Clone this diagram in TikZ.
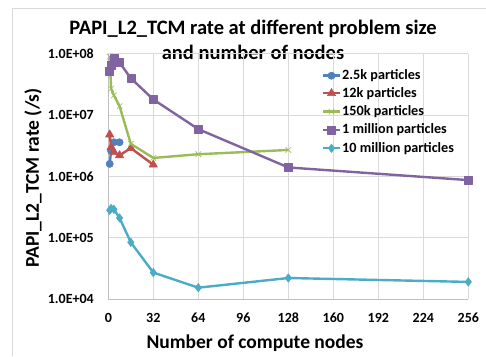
\documentclass[tikz,border=0pt]{standalone}
\usepackage{fontspec}
\setmainfont{Carlito}
\usepackage{xcolor}
\usepackage{tikz}
\usetikzlibrary{plotmarks}

\definecolor{cSmall}{HTML}{4F81BD}
\definecolor{cTwelve}{HTML}{C0504D}
\definecolor{cMid}{HTML}{9BBB59}
\definecolor{cMillion}{HTML}{8064A2}
\definecolor{cTen}{HTML}{4BACC6}

\tikzset{
  grid line/.style={draw=black!15, line width=0.8pt},
  tick label/.style={font=\bfseries\fontsize{14}{16}\selectfont},
  axis title/.style={font=\bfseries\fontsize{19.5}{22}\selectfont},
  series/.style={draw=#1, line width=2.4pt, line join=round,
    mark options={solid, fill=#1, line width=0.6pt}},
}

\begin{document}
\begin{tikzpicture}[x=1pt,y=1pt]
    \useasboundingbox (0,0) rectangle (486,356);
    % Draw chart frame
    \draw[black!15] (12,0) -- (12,348) -- (486,348);

    % Draw title
    \node[font=\bfseries\fontsize{20.5}{25}\selectfont, align=center] (title) at (253,316)
        {PAPI\_L2\_TCM rate at different problem size\\and number of nodes};

    \begin{scope}[shift={(108.3,57)}, x=1.40625pt, y=61.3pt]
        % Draw grid with labels
        \foreach \x in {32,64,...,256} {
            \draw[grid line] (\x,0) -- (\x,4);
        }
        \foreach \y in {1,2,3,4} {
            \draw[grid line] (0,\y) -- (256,\y);
        }
        \draw[draw=black!25, line width=0.8pt] (0,4) -- (0,0) -- (256,0);
        \foreach \x in {0,32,...,256} {
            \node[tick label, yshift=-19pt] (xl\x) at (\x,0) {\x};
        }
        \foreach \y/\e in {0/04,1/05,2/06,3/07,4/08} {
            \node[tick label, anchor=east, xshift=-11pt] (yl\y) at (0,\y) {1.0E+\e};
        }

        % Draw data series
        \draw[series=cSmall, mark=*, mark size=3.6pt] plot coordinates {
            (1,{2+log10(1.6)}) (2,{2+log10(2.6)}) (4,{2+log10(3.6)}) (8,{2+log10(3.6)})};
        \draw[series=cTwelve, mark=triangle*, mark size=4.8pt] plot coordinates {
            (1,{2+log10(4.8)}) (2,{2+log10(3.0)}) (4,{2+log10(2.5)}) (8,{2+log10(2.2)})
            (16,{2+log10(2.9)}) (32,{2+log10(1.55)})};
        \draw[series=cMid, mark=x, mark size=4pt] plot coordinates {
            (1,{3+log10(9.0)}) (2,{3+log10(2.7)}) (4,{3+log10(2.1)}) (8,{3+log10(1.4)})
            (16,{2+log10(3.4)}) (32,{2+log10(2.0)}) (64,{2+log10(2.3)}) (128,{2+log10(2.7)})};
        \draw[series=cMillion, mark=square*, mark size=4pt] plot coordinates {
            (1,{3+log10(5.2)}) (2,{3+log10(6.5)}) (4,{3+log10(8.5)}) (8,{3+log10(7.2)})
            (16,{3+log10(4.0)}) (32,{3+log10(1.8)}) (64,{2+log10(5.9)}) (128,{2+log10(1.4)})
            (256,{1+log10(8.7)})};
        \draw[series=cTen, mark=diamond*, mark size=4.2pt] plot coordinates {
            (1,{1+log10(2.8)}) (2,{1+log10(3.0)}) (4,{1+log10(2.9)}) (8,{1+log10(2.1)})
            (16,{log10(8.4)}) (32,{log10(2.7)}) (64,{log10(1.53)}) (128,{log10(2.2)})
            (256,{log10(1.9)})};
    \end{scope}

    % Draw axis titles
    \node[axis title, rotate=90] (ytitle) at (33,178) {PAPI\_L2\_TCM rate (/s)};
    \node[axis title] (xtitle) at (255,13) {Number of compute nodes};

    % Draw legend
    \foreach \c/\m/\s/\y/\t in {cSmall/*/3.6pt/280.3/2.5k particles,
                                cTwelve/triangle*/4.8pt/262.7/12k particles,
                                cMid/x/4pt/244.3/150k particles,
                                cMillion/square*/4pt/226/1 million particles,
                                cTen/diamond*/4.2pt/207.7/10 million particles} {
        \draw[series=\c] (323,\y) -- (340,\y) plot[mark=\m, mark size=\s] coordinates {(331.5,\y)};
        \node[font=\bfseries\fontsize{14.2}{16}\selectfont, anchor=west, inner sep=1pt] (leg\y) at (341,\y) {\t};
    }
\end{tikzpicture}
\end{document}
